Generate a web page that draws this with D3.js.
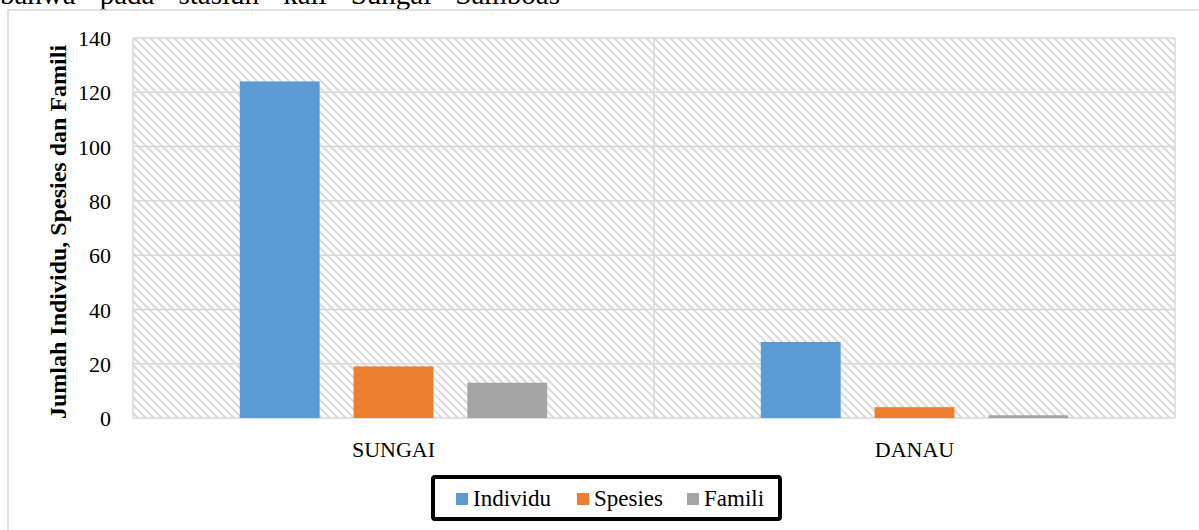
<!DOCTYPE html>
<html>
<head>
<meta charset="utf-8">
<script src="https://cdn.jsdelivr.net/npm/d3@7"></script>
<style>
  html, body { margin: 0; padding: 0; background: #fff; }
  svg { display: block; }
  svg text { font-family: "Liberation Serif", "Times New Roman", serif; }
</style>
</head>
<body>
<svg id="chart" width="1199" height="530"></svg>
<script>
// Jumlah individu, spesies dan famili per stasiun
const categories = ["SUNGAI", "DANAU"];
const seriesNames = ["Individu", "Spesies", "Famili"];
const individu = [124, 28];
const spesies = [19, 4];
const famili = [13, 1];
const yTicks = [0, 20, 40, 60, 80, 100, 120, 140];
const colors = ["#5B9BD5", "#ED7D31", "#A5A5A5"];

const seriesValues = [individu, spesies, famili];
const serif = "Liberation Serif, Times New Roman, serif";

const svg = d3.select("#chart");
const W = 1199, H = 530;
const plot = { left: 133, right: 1175, top: 38, bottom: 418 };

// Hatched plot background
const defs = svg.append("defs");
const pat = defs.append("pattern")
  .attr("id", "hatch")
  .attr("patternUnits", "userSpaceOnUse")
  .attr("width", 8).attr("height", 8);
pat.append("rect").attr("width", 8).attr("height", 8).attr("fill", "#fff");
pat.append("path")
  .attr("d", "M0,0L8,8M-4,4L4,12M4,-4L12,4")
  .attr("stroke", "#dadada").attr("stroke-width", 2).attr("fill", "none");

// Running text line above the chart (cut off at the top)
const para = svg.append("text")
  .attr("x", 0).attr("y", 4)
  .attr("font-family", serif)
  .attr("font-size", 29)
  .attr("fill", "#000")
  .text("bahwa pada stasiun kali Sungai Samboas");
const natural = para.node().getComputedTextLength();
para.style("word-spacing", Math.max(0, (560 - natural) / 5) + "px");

// Outer chart frame
svg.append("path")
  .attr("d", `M8,${H}L8,10L${W},10`)
  .attr("fill", "none").attr("stroke", "#d9d9d9").attr("stroke-width", 1.5);

const x0 = d3.scaleBand().domain(categories).range([plot.left, plot.right]);
const x1 = d3.scaleBand().domain(seriesNames)
  .range([0, x0.bandwidth()])
  .paddingInner(34 / 114).paddingOuter(107 / 114);
const y = d3.scaleLinear().domain([0, 140]).range([plot.bottom, plot.top]);

svg.append("rect")
  .attr("x", plot.left).attr("y", plot.top)
  .attr("width", plot.right - plot.left).attr("height", plot.bottom - plot.top)
  .attr("fill", "url(#hatch)");

// Horizontal gridlines
svg.append("g")
  .selectAll("line").data(yTicks).join("line")
  .attr("x1", plot.left).attr("x2", plot.right)
  .attr("y1", d => y(d)).attr("y2", d => y(d))
  .attr("stroke", "#d9d9d9").attr("stroke-width", 1.5);

// Vertical gridlines at category boundaries
const bounds = categories.map(c => x0(c)).concat([plot.right]);
svg.append("g")
  .selectAll("line").data(bounds).join("line")
  .attr("x1", d => d).attr("x2", d => d)
  .attr("y1", plot.top).attr("y2", plot.bottom)
  .attr("stroke", "#d9d9d9").attr("stroke-width", 1.5);

// Bars
const bars = [];
categories.forEach((c, ci) => {
  seriesNames.forEach((s, si) => {
    bars.push({ cat: c, series: s, value: seriesValues[si][ci], color: colors[si] });
  });
});
svg.append("g")
  .selectAll("rect").data(bars).join("rect")
  .attr("x", d => x0(d.cat) + x1(d.series))
  .attr("width", x1.bandwidth())
  .attr("y", d => y(d.value))
  .attr("height", d => y(0) - y(d.value))
  .attr("fill", d => d.color);

// Y axis tick labels
const yAxis = d3.axisLeft(y).tickValues(yTicks).tickSize(0).tickPadding(0).tickFormat(d3.format("d"));
const yg = svg.append("g").attr("transform", `translate(111,0)`).call(yAxis);
yg.attr("font-family", serif).attr("font-size", 22);
yg.select(".domain").remove();
yg.selectAll("text")
  .attr("fill", "#000").attr("dy", "0.35em");

// X axis category labels
const xAxis = d3.axisBottom(x0).tickSize(0).tickPadding(0);
const xg = svg.append("g").attr("transform", `translate(0,${plot.bottom + 39})`).call(xAxis);
xg.attr("font-family", serif).attr("font-size", 22);
xg.select(".domain").remove();
xg.selectAll("text")
  .attr("fill", "#000").attr("dy", 0);

// Y axis title
svg.append("text")
  .attr("transform", `translate(66,${(plot.top + plot.bottom) / 2 + 4}) rotate(-90)`)
  .attr("text-anchor", "middle")
  .attr("font-family", serif)
  .attr("font-size", 24).attr("font-weight", "bold")
  .text("Jumlah Individu, Spesies dan Famili");

// Legend
const legend = svg.append("g").attr("font-family", serif);
legend.append("rect")
  .attr("x", 433).attr("y", 477).attr("width", 347).attr("height", 42)
  .attr("rx", 2)
  .attr("fill", "#fff").attr("stroke", "#000").attr("stroke-width", 4);
const legendX = [456, 577, 687];
seriesNames.forEach((s, i) => {
  legend.append("rect")
    .attr("x", legendX[i]).attr("y", 493)
    .attr("width", 12).attr("height", 12)
    .attr("fill", colors[i]);
  legend.append("text")
    .attr("x", legendX[i] + 17).attr("y", 506)
    .attr("font-size", 23)
    .text(s);
});
</script>
</body>
</html>
